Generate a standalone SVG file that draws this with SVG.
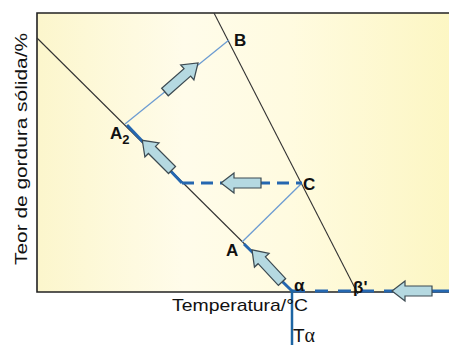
<svg xmlns="http://www.w3.org/2000/svg" width="449" height="345" viewBox="0 0 449 345">
<defs>
<linearGradient id="bg" x1="0" y1="0" x2="1" y2="0">
<stop offset="0" stop-color="#fcf6cc"/>
<stop offset="0.35" stop-color="#fffcea"/>
<stop offset="0.6" stop-color="#fffbe0"/>
<stop offset="1" stop-color="#fcf6c2"/>
</linearGradient>
<path id="arr" d="M0,-5 L27,-5 L27,-10 L40,0 L27,10 L27,5 L0,5 Z"/>
<style>
.lbl{font-family:"Liberation Sans",Arial,sans-serif;font-weight:bold;font-size:17px;fill:#111}
.ax{font-family:"Liberation Sans",Arial,sans-serif;font-size:17px;fill:#111}
.blk{stroke:#333;stroke-width:1.1;fill:none}
.thin{stroke:#6d9cd2;stroke-width:1.3;fill:none}
.thick{stroke:#2567b0;stroke-width:3;fill:none}
.dash{stroke:#2567b0;stroke-width:3;fill:none;stroke-dasharray:12 7}
.ba{fill:#b5d9e1;stroke:#3d4b52;stroke-width:1.2}
</style>
</defs>
<rect x="0" y="0" width="449" height="345" fill="#ffffff"/>
<g id="plot">
<rect x="37" y="13" width="420" height="279" fill="url(#bg)"/>
<path d="M449,13 L37,13 L37,292 L449,292" stroke="#222" stroke-width="1.6" fill="none"/>
</g>
<g id="connectors">
<line class="blk" x1="37" y1="38" x2="292" y2="291"/>
<line class="blk" x1="214" y1="13" x2="358" y2="294"/>
<line class="thin" x1="125" y1="124" x2="229" y2="40"/>
<line class="thin" x1="242" y1="242" x2="302" y2="183"/>
<line class="thick" x1="127" y1="125" x2="182" y2="183"/>
<line class="dash" x1="182" y1="183" x2="302" y2="183"/>
<line class="thick" x1="244" y1="244" x2="292" y2="291"/>
<line class="dash" x1="292" y1="291" x2="432" y2="291" style="stroke-dasharray:13 10"/>
<line class="thick" x1="432" y1="291" x2="449" y2="291"/>
<line x1="292" y1="290" x2="292" y2="345" stroke="#1d65a3" stroke-width="2.5"/>
</g>
<g id="arrows">
<use href="#arr" class="ba" transform="translate(165,92) rotate(-41.3) scale(1.1,1)"/>
<use href="#arr" class="ba" transform="translate(172,170) rotate(-135) scale(1.05,1)"/>
<use href="#arr" class="ba" transform="translate(261,183) rotate(180)"/>
<use href="#arr" class="ba" transform="translate(282,282) rotate(-133) scale(1.1,1)"/>
<use href="#arr" class="ba" transform="translate(432,291) rotate(180)"/>
</g>
<g id="node-B"><text class="lbl" x="234" y="46">B</text></g>
<g id="node-A2"><text class="lbl" x="110" y="139">A<tspan font-size="13" dy="5">2</tspan></text></g>
<g id="node-C"><text class="lbl" x="303" y="190">C</text></g>
<g id="node-A"><text class="lbl" x="226" y="256">A</text></g>
<g id="node-alpha"><text class="lbl" x="294" y="291">α</text></g>
<g id="node-beta"><text class="lbl" x="353" y="293">β'</text></g>
<g id="labels">
<text class="ax" x="172" y="311" textLength="136" lengthAdjust="spacingAndGlyphs">Temperatura/°C</text>
<text class="ax" x="0" y="0" transform="translate(27,265) rotate(-90)" textLength="232" lengthAdjust="spacingAndGlyphs">Teor de gordura sólida/%</text>
<text x="293" y="342" font-family="'Liberation Sans',Arial,sans-serif" font-size="19" fill="#111">T<tspan font-family="'Liberation Serif','Times New Roman',serif" font-size="20">α</tspan></text>
</g>
</svg>
